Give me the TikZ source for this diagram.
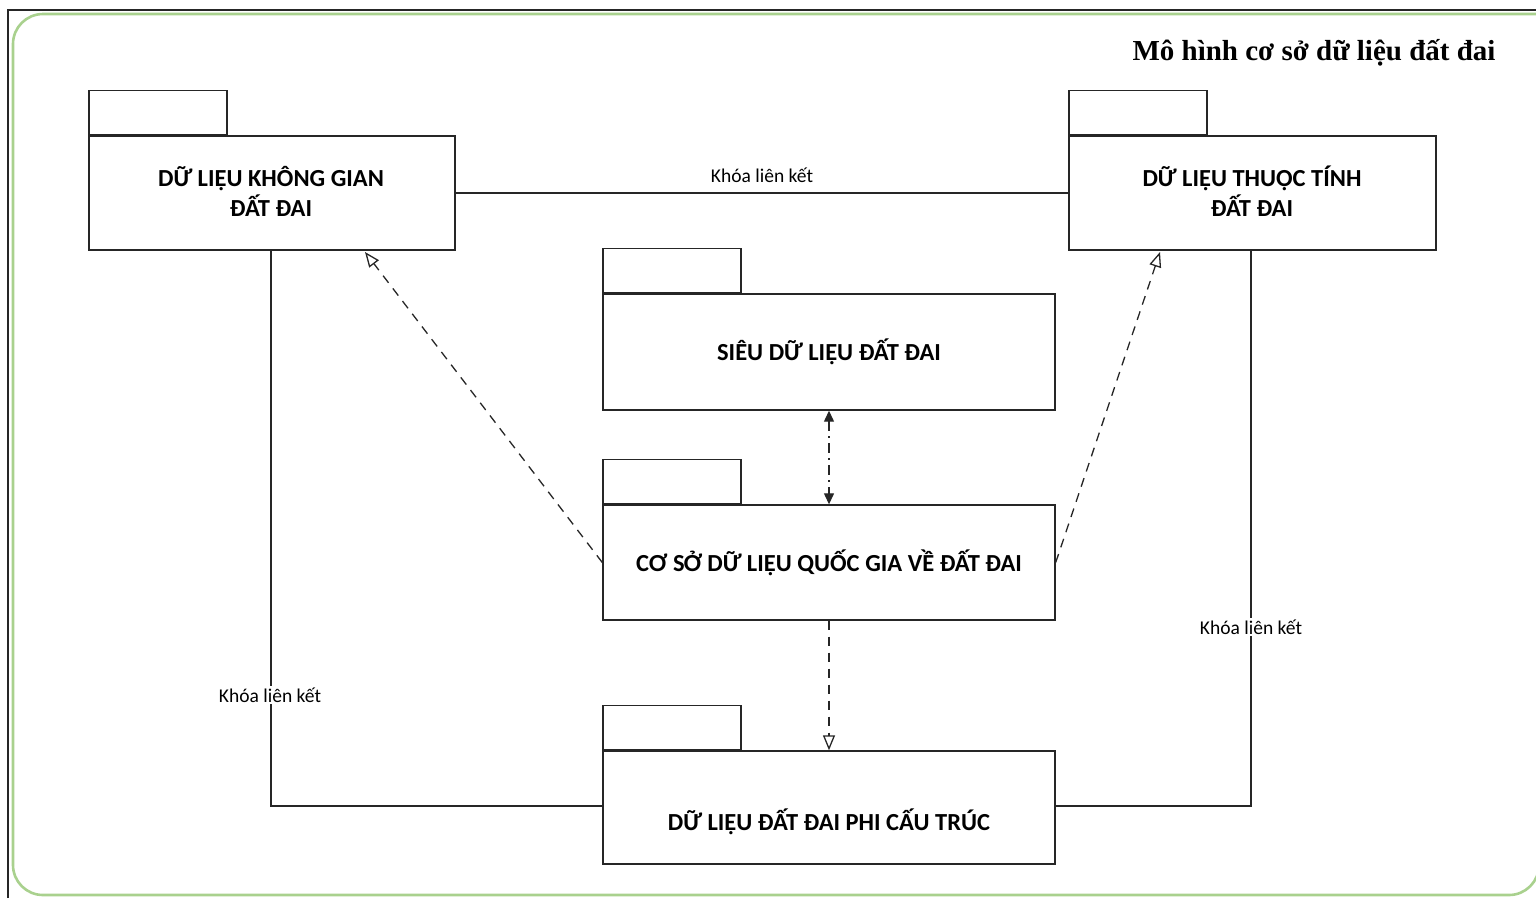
\documentclass[tikz,border=0pt]{standalone}
\usepackage{fontspec}
\setmainfont{Carlito}
\newfontfamily\titlefont{Liberation Serif}
\usetikzlibrary{arrows.meta}
\definecolor{framegreen}{HTML}{A9D18E}
\definecolor{linegray}{HTML}{262626}
\tikzset{
  body/.style={draw=linegray, line width=1.4pt, fill=white, font=\bfseries\fontsize{24.5}{30}\selectfont, align=center, inner sep=0pt},
  tab/.style={draw=linegray, line width=1.4pt, minimum width=138pt, minimum height=44pt, anchor=south west, inner sep=0pt},
  conn/.style={draw=linegray, line width=1.3pt},
  keylabel/.style={fill=white, font=\fontsize{19.5}{22}\selectfont, inner sep=1.5pt},
  dep/.style={conn, dash pattern=on 9pt off 7pt, -{Triangle[open, length=15pt, width=12pt]}},
  bidir/.style={conn, dash pattern=on 10pt off 5pt on 2pt off 5pt, {Triangle[length=11pt, width=10pt]}-{Triangle[length=11pt, width=10pt]}}
}
\begin{document}
\begin{tikzpicture}[x=1pt, y=-1pt]
\useasboundingbox (0,0) rectangle (1536,898);
% frame
\draw[linegray, line width=2pt] (8,898) -- (8,10) -- (1536,10);
\draw[framegreen, line width=2.6pt, rounded corners=30pt] (1560,14) -- (13,14) -- (13,895) -- (1539,895) -- (1539,700);
% title
\node[font=\titlefont\bfseries\fontsize{29}{32}\selectfont] (title) at (1314,53) {Mô hình cơ sở dữ liệu đất đai};
% packages
\node[body, minimum width=366pt, minimum height=114pt] (spatial) at (272,193) {};
\node[tab] (spatialtab) at (spatial.north west) {};
\node[font=\bfseries\fontsize{24.5}{30}\selectfont, align=center] (spatialtext) at (271,191) {DỮ LIỆU KHÔNG GIAN\\ĐẤT ĐAI};
\node[body, minimum width=367pt, minimum height=114pt] (attr) at (1252.5,193) {};
\node[tab] (attrtab) at (attr.north west) {};
\node[font=\bfseries\fontsize{24.5}{30}\selectfont, align=center] (attrtext) at (1252,191) {DỮ LIỆU THUỘC TÍNH\\ĐẤT ĐAI};
\node[body, minimum width=452pt, minimum height=116pt] (meta) at (829,352) {SIÊU DỮ LIỆU ĐẤT ĐAI};
\node[tab] (metatab) at (meta.north west) {};
\node[body, minimum width=452pt, minimum height=115pt] (nat) at (829,562.5) {CƠ SỞ DỮ LIỆU QUỐC GIA VỀ ĐẤT ĐAI};
\node[tab] (nattab) at (nat.north west) {};
\node[body, minimum width=452pt, minimum height=113pt] (unstr) at (829,807.5) {};
\node[tab] (unstrtab) at (unstr.north west) {};
\node[font=\bfseries\fontsize{24.5}{30}\selectfont] (unstrtext) at (829,822) {DỮ LIỆU ĐẤT ĐAI PHI CẤU TRÚC};
% key links
\draw[conn] (spatial.east) -- (attr.west);
\node[keylabel, fill=none] (k1) at (762,175) {Khóa liên kết};
\coordinate (c1) at (271,806);
\coordinate (c2) at (1251,806);
\draw[conn] (spatial.south -| c1) -- (c1) -- (c1 -| unstr.west);
\draw[conn] (attr.south -| c2) -- (c2) -- (c2 -| unstr.east);
\node[keylabel] (k2) at (270,695) {Khóa liên kết};
\node[keylabel] (k3) at (1251,627) {Khóa liên kết};
% dependencies
\coordinate (s1) at (365,252);
\coordinate (a1) at (1160,252);
\draw[dep] (nat.west) -- (s1);
\draw[dep] (nat.east) -- (a1);
\draw[dep] (nat.south) -- (unstr.north);
\draw[bidir] (meta.south) -- (nat.north);
\end{tikzpicture}
\end{document}
